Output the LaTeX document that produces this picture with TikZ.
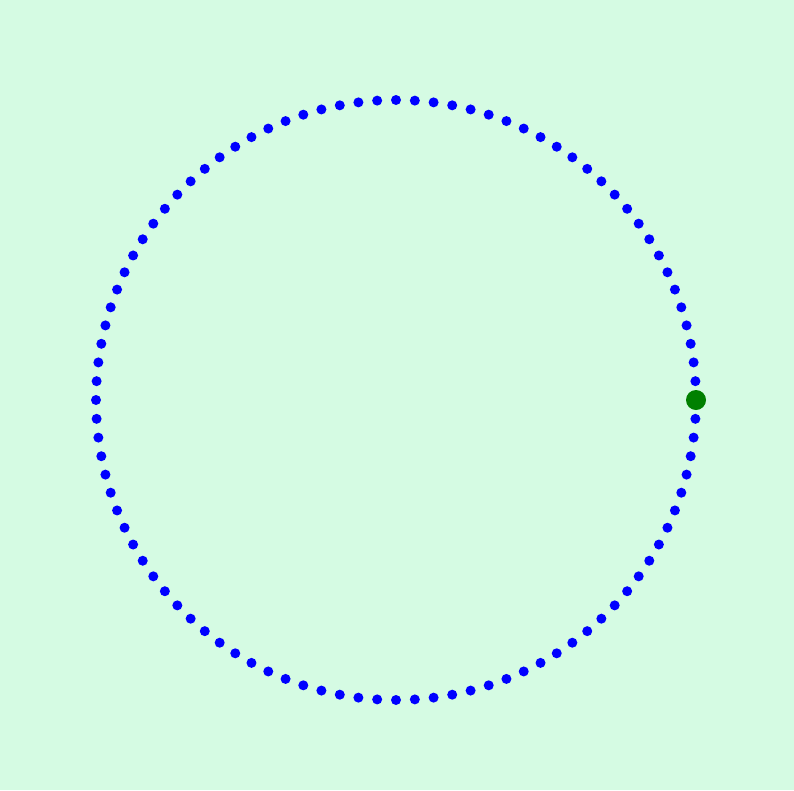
\documentclass[tikz,border=0pt]{standalone}
\usetikzlibrary{calc}
\definecolor{bgc}{HTML}{D5FBE3}
\definecolor{dotblue}{HTML}{0000FF}
\definecolor{dotgreen}{HTML}{008000}
\begin{document}
\begin{tikzpicture}[x=1pt,y=-1pt,
  bluedot/.style={circle,fill=dotblue,inner sep=0pt,minimum size=10pt},
  greendot/.style={circle,fill=dotgreen,inner sep=0pt,minimum size=20pt}]
\fill[bgc] (0,0) rectangle (794,790);
\useasboundingbox (0,0) rectangle (794,790);
\coordinate (c) at (396,400);
\foreach \i in {0,...,99} {
  \node[bluedot] (b\i) at ($(c)+({300*cos(3.6*\i)},{-300*sin(3.6*\i)})$) {};
}
\node[greendot] (g) at (696,400) {};
\end{tikzpicture}
\end{document}
